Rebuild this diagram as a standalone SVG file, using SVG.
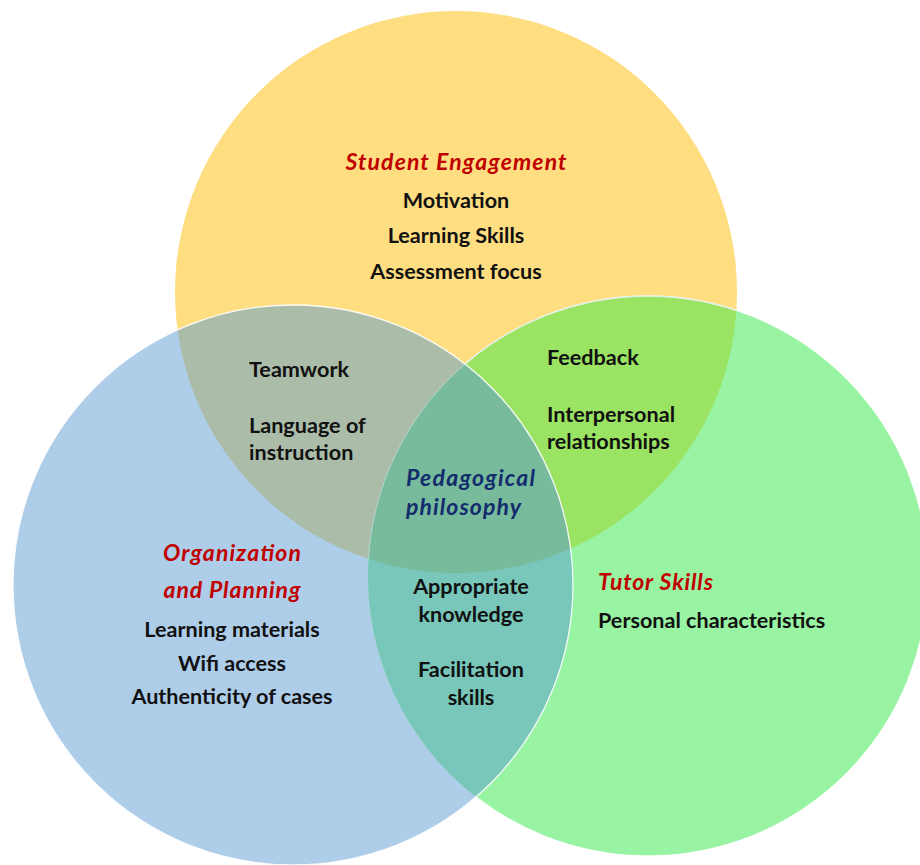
<svg xmlns="http://www.w3.org/2000/svg" width="920" height="865" viewBox="0 0 920 865">
  <style>
    .t { font-family: Lato, "Liberation Sans", sans-serif; font-weight: 700; font-size: 21.6px; fill: #111111; }
    .h { font-family: Lato, "Liberation Sans", sans-serif; font-weight: 700; font-style: italic; font-size: 23px; fill: #C00000; }
    .hb { font-family: Lato, "Liberation Sans", sans-serif; font-weight: 700; font-style: italic; font-size: 23px; fill: #132C6C; }
    .mid { text-anchor: middle; }
    .edge { fill: none; stroke: #FFFFFF; stroke-width: 1.3; stroke-opacity: 0.9; }
  </style>
  <defs>
    <clipPath id="clipY"><circle cx="456" cy="292" r="281"/></clipPath>
    <clipPath id="clipB"><circle cx="293" cy="585" r="280"/></clipPath>
    <mask id="outsideB">
      <rect x="0" y="0" width="920" height="865" fill="#FFFFFF"/>
      <circle cx="293" cy="585" r="280" fill="#000000"/>
    </mask>
  </defs>
  <rect x="0" y="0" width="920" height="865" fill="#FFFFFF"/>

  <!-- base circles -->
  <g id="circles">
    <circle id="circle-student" cx="456" cy="292" r="281" fill="#FFDE82"/>
    <circle id="circle-organization" cx="293" cy="585" r="280" fill="#AECDE9"/>
    <circle id="circle-tutor" cx="648" cy="576" r="280" fill="#98F3A3"/>
  </g>

  <!-- overlap regions -->
  <g id="overlaps">
    <circle cx="293" cy="585" r="280" fill="#ABBDA9" clip-path="url(#clipY)"/>
    <circle cx="648" cy="576" r="280" fill="#9BE362" clip-path="url(#clipY)"/>
    <circle cx="648" cy="576" r="280" fill="#78C7BA" clip-path="url(#clipB)"/>
    <g clip-path="url(#clipY)">
      <circle cx="648" cy="576" r="280" fill="#77BB9C" clip-path="url(#clipB)"/>
    </g>
  </g>

  <!-- thin light outlines -->
  <g id="outlines">
    <circle class="edge" cx="293" cy="585" r="280"/>
    <circle class="edge" cx="648" cy="576" r="280" mask="url(#outsideB)"/>
    <circle cx="648" cy="576" r="280" fill="none" stroke="#C9E4F2" stroke-width="1" stroke-opacity="0.6" clip-path="url(#clipY)"/>
  </g>

  <g id="student-engagement">
    <text class="h mid" x="456" y="170" textLength="221" lengthAdjust="spacing">Student Engagement</text>
    <text class="t mid" x="456" y="208">Motivation</text>
    <text class="t mid" x="456" y="243">Learning Skills</text>
    <text class="t mid" x="456" y="279">Assessment focus</text>
  </g>

  <g id="student-organization">
    <text class="t" x="249" y="377">Teamwork</text>
    <text class="t" x="249" y="433">Language of</text>
    <text class="t" x="249" y="460">instruction</text>
  </g>

  <g id="student-tutor">
    <text class="t" x="547" y="365">Feedback</text>
    <text class="t" x="547" y="422">Interpersonal</text>
    <text class="t" x="547" y="449">relationships</text>
  </g>

  <g id="pedagogical-philosophy">
    <text class="hb" x="406" y="486" textLength="129" lengthAdjust="spacing">Pedagogical</text>
    <text class="hb" x="406" y="515" textLength="115" lengthAdjust="spacing">philosophy</text>
  </g>

  <g id="organization-tutor">
    <text class="t mid" x="471" y="594">Appropriate</text>
    <text class="t mid" x="471" y="622">knowledge</text>
    <text class="t mid" x="471" y="677">Facilitation</text>
    <text class="t mid" x="471" y="705">skills</text>
  </g>

  <g id="organization-planning">
    <text class="h mid" x="232" y="561" textLength="138" lengthAdjust="spacing">Organization</text>
    <text class="h mid" x="232" y="598" textLength="137" lengthAdjust="spacing">and Planning</text>
    <text class="t mid" x="232" y="637">Learning materials</text>
    <text class="t mid" x="232" y="671">Wifi access</text>
    <text class="t mid" x="232" y="704">Authenticity of cases</text>
  </g>

  <g id="tutor-skills">
    <text class="h" x="598" y="590" textLength="115" lengthAdjust="spacing">Tutor Skills</text>
    <text class="t" x="598" y="628">Personal characteristics</text>
  </g>
</svg>
